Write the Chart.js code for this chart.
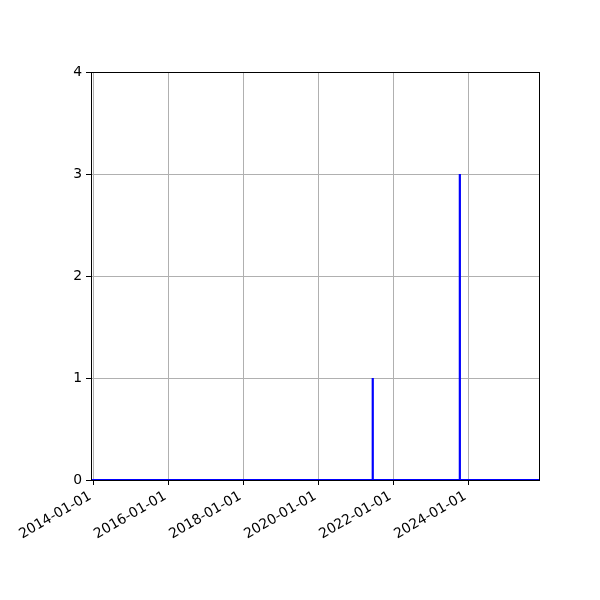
<!DOCTYPE html>
<html>
<head>
<meta charset="utf-8">
<script src="https://cdn.jsdelivr.net/npm/chart.js@4/dist/chart.umd.min.js"></script>
<style>
  html, body { margin: 0; padding: 0; background: #fff; }
  #chart { display: block; }
</style>
</head>
<body>
<canvas id="chart" width="600" height="600"></canvas>
<script>
// Event dates and counts (zero between events)
const dates  = ['2013-12-10', '2021-06-13', '2021-06-14', '2021-06-15', '2023-10-09', '2023-10-10', '2023-10-11', '2025-11-29'];
const counts = [0, 0, 1, 0, 0, 3, 0, 0];

// x tick labels and y ticks
const xTickLabels = ['2014-01-01', '2016-01-01', '2018-01-01', '2020-01-01', '2022-01-01', '2024-01-01'];
const yTicks = [0, 1, 2, 3, 4];

const toMs = (s) => Date.parse(s + 'T00:00:00Z');
const pad2 = (n) => String(n).padStart(2, '0');
const fmtDate = (ms) => {
    const d = new Date(ms);
    return `${d.getUTCFullYear()}-${pad2(d.getUTCMonth() + 1)}-${pad2(d.getUTCDate())}`;
};

const points = dates.map((d, i) => ({ x: toMs(d), y: counts[i] }));
const gridColor = '#b0b0b0';
const font = { family: 'DejaVu Sans', size: 13.9 };

// matplotlib-like frame drawn on top of the line
const framePlugin = {
    id: 'frame',
    afterDatasetsDraw(chart) {
        const { ctx, chartArea: a } = chart;
        ctx.save();
        ctx.strokeStyle = '#000';
        ctx.lineWidth = 1;
        ctx.strokeRect(Math.round(a.left) + 0.5, Math.round(a.top) + 0.5,
            Math.round(a.right - a.left) - 1, Math.round(a.bottom - a.top));
        ctx.restore();
    }
};

new Chart(document.getElementById('chart'), {
    type: 'line',
    data: {
        datasets: [{
            data: points,
            borderColor: '#0000ff',
            borderWidth: 2.2,
            pointRadius: 0,
            tension: 0,
            fill: false
        }]
    },
    options: {
        responsive: false,
        animation: false,
        devicePixelRatio: 1,
        layout: { padding: { left: 0, top: 72, right: 60, bottom: 0 } },
        plugins: {
            legend: { display: false },
            tooltip: { enabled: false }
        },
        scales: {
            x: {
                type: 'linear',
                min: toMs(dates[0]),
                max: toMs(dates[dates.length - 1]),
                afterBuildTicks: (scale) => {
                    scale.ticks = xTickLabels.map(l => ({ value: toMs(l) }));
                },
                afterFit: (scale) => { scale.height = 120; },
                border: { display: false },
                grid: {
                    color: gridColor,
                    lineWidth: 1,
                    tickLength: 5,
                    tickColor: '#000',
                    tickWidth: 1
                },
                ticks: {
                    color: '#000',
                    font: font,
                    minRotation: 30,
                    maxRotation: 30,
                    padding: 3,
                    labelOffset: -3,
                    autoSkip: false,
                    callback: (v) => fmtDate(v)
                }
            },
            y: {
                min: yTicks[0],
                max: yTicks[yTicks.length - 1],
                afterBuildTicks: (scale) => {
                    scale.ticks = yTicks.map(v => ({ value: v }));
                },
                afterFit: (scale) => { scale.width = 91; },
                border: { display: false },
                grid: {
                    color: gridColor,
                    lineWidth: 1,
                    tickLength: 5,
                    tickColor: '#000',
                    tickWidth: 1
                },
                ticks: {
                    color: '#000',
                    font: font,
                    padding: 4,
                    callback: (v) => String(v)
                }
            }
        }
    },
    plugins: [framePlugin]
});
</script>
</body>
</html>
